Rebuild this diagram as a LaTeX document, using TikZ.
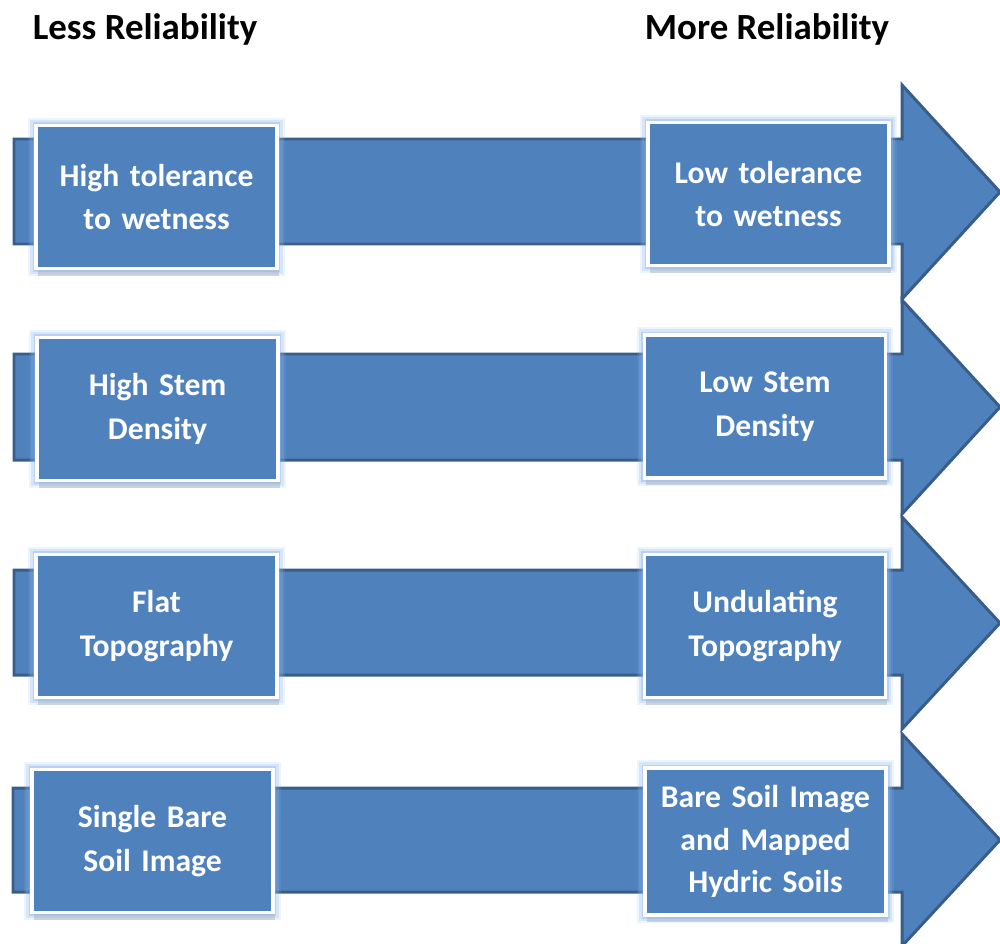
\documentclass[tikz,border=0pt]{standalone}
\usepackage{fontspec}
\setmainfont{Carlito}
\usepackage{tikz}
\usetikzlibrary{shadows}
\usetikzlibrary{positioning}

\definecolor{arrowfill}{HTML}{4F81BD}
\definecolor{arrowedge}{HTML}{385D8A}
\definecolor{glowblue}{HTML}{8DB6EA}

\begin{document}
\begin{tikzpicture}[x=0.02cm,y=-0.02cm,
    bigarrow/.style={fill=arrowfill,draw=arrowedge,line width=1.7pt,line join=miter},
    factor/.style={rectangle,fill=arrowfill,draw=white,line width=1.8pt,
      drop shadow={shadow xshift=1pt,shadow yshift=-4pt,opacity=0.3},
      preaction={draw=glowblue,line width=9pt,opacity=0.15},
      preaction={draw=glowblue,line width=6.5pt,opacity=0.25},
      preaction={draw=glowblue,line width=4pt,opacity=0.4},
      minimum width=4.82cm,minimum height=2.86cm,inner sep=0pt,
      text width=4.6cm,align=center,text=white,
      font=\bfseries\fontsize{18}{25}\selectfont},
    heading/.style={font=\bfseries\fontsize{21}{24}\selectfont,inner sep=0pt}]
  \useasboundingbox (0,0) rectangle (1000,943);

  \node [heading] (less) at (145,29) {Less Reliability};
  \node [heading] (more) at (767,29) {More Reliability};

  \draw [bigarrow] (14,139) -- (902,139) -- (902,85) -- (1000,192) -- (902,299) -- (902,244) -- (14,244) -- cycle;
  \draw [bigarrow] (14,354) -- (902,354) -- (902,300) -- (1000,407) -- (902,514) -- (902,460) -- (14,460) -- cycle;
  \draw [bigarrow] (14,570) -- (902,570) -- (902,517) -- (1000,623) -- (902,729) -- (902,675) -- (14,675) -- cycle;
  \draw [bigarrow] (13,788) -- (902,788) -- (902,734) -- (1000,840) -- (902,946) -- (902,892) -- (13,892) -- cycle;

  \node [factor] (high_tol) at (156.5,197) {High tolerance\\to wetness};
  \node [factor] (low_tol) at (768.5,194) {Low tolerance\\to wetness};

  \node [factor] (high_stem) at (157.5,409) {High Stem\\Density};
  \node [factor] (low_stem) at (765,406.5) {Low Stem\\Density};

  \node [factor] (flat_topo) at (156.5,626) {Flat\\Topography};
  \node [factor] (undul_topo) at (765,626) {Undulating\\Topography};

  \node [factor] (single_img) at (152.5,841) {Single Bare\\Soil Image};
  \node [factor,minimum height=2.94cm,text width=4.7cm,font=\bfseries\fontsize{18}{24.2}\selectfont] (mapped_hydric) at (765.5,841.5) {Bare Soil Image\\and Mapped\\Hydric Soils};

\end{tikzpicture}
\end{document}
